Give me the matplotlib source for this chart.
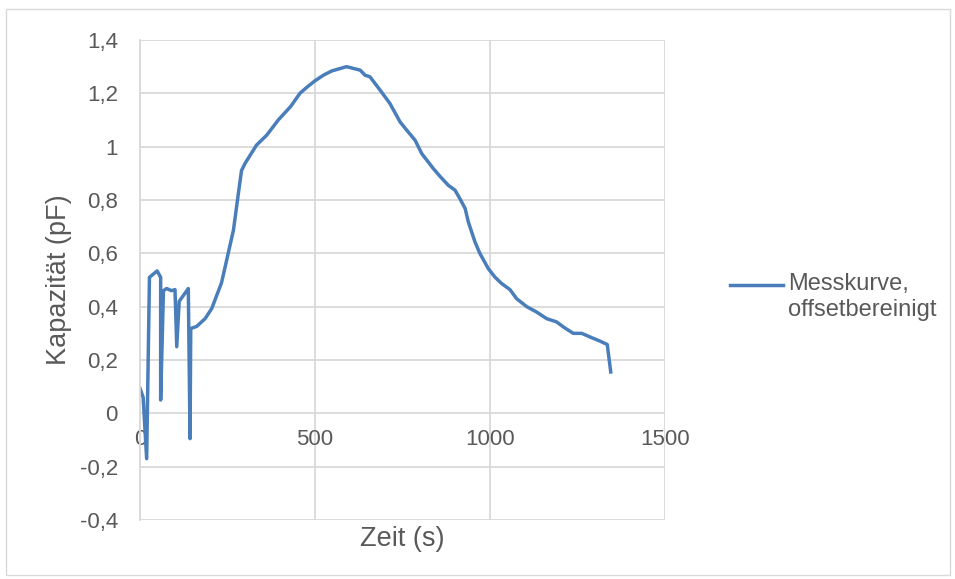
import numpy as np
import matplotlib.pyplot as plt
from matplotlib.patches import Rectangle
from matplotlib.lines import Line2D

plt.rcParams['font.family'] = ['Liberation Sans', 'DejaVu Sans']

zeit = [0, 9, 19, 27, 49, 59, 59, 67, 76, 90, 100, 105, 112, 138, 143, 145,
        162, 186, 205, 233, 252, 267, 281, 290, 300, 333, 362, 395, 430, 457,
        476, 500, 524, 548, 590, 629, 643, 657, 686, 714, 743, 762, 786, 805,
        838, 857, 881, 900, 914, 929, 938, 957, 971, 995, 1014, 1033, 1057,
        1076, 1105, 1133, 1162, 1190, 1214, 1238, 1262, 1290, 1314, 1335, 1345]
kapazitaet = [0.094, 0.06, -0.17, 0.51, 0.534, 0.51, 0.05, 0.46, 0.468, 0.46,
              0.464, 0.25, 0.42, 0.468, -0.095, 0.318, 0.326, 0.355, 0.393,
              0.49, 0.60, 0.687, 0.824, 0.91, 0.937, 1.006, 1.043, 1.10, 1.15,
              1.20, 1.222, 1.247, 1.268, 1.284, 1.30, 1.287, 1.268, 1.262,
              1.212, 1.162, 1.093, 1.062, 1.024, 0.974, 0.918, 0.889, 0.855,
              0.837, 0.805, 0.768, 0.718, 0.643, 0.60, 0.543, 0.511, 0.487,
              0.464, 0.43, 0.40, 0.38, 0.355, 0.343, 0.32, 0.30, 0.30, 0.284,
              0.271, 0.258, 0.155]

x_ticks = [0, 500, 1000, 1500]
y_ticks = [-0.4, -0.2, 0, 0.2, 0.4, 0.6, 0.8, 1, 1.2, 1.4]
y_labels = ['-0,4', '-0,2', '0', '0,2', '0,4', '0,6', '0,8', '1', '1,2', '1,4']
legende = 'Messkurve,\noffsetbereinigt'

grau = '#595959'
blau = '#4a7ebb'
W, H = 955, 579

fig = plt.figure(figsize=(9.55, 5.79), dpi=100)
# Rahmen um das Diagramm
fig.patches.append(Rectangle((6 / W, 4 / H), 944 / W, 566 / H,
                             transform=fig.transFigure, fill=False,
                             edgecolor='#d9d9d9', linewidth=1))
ax = fig.add_axes([140 / W, 1 - 520 / H, 525 / W, 480 / H])

ax.plot(zeit, kapazitaet, color=blau, linewidth=2.5)

ax.set_xlim(0, 1500)
ax.set_ylim(-0.4, 1.4)
ax.set_xticks(x_ticks)
ax.set_yticks(y_ticks)
ax.set_yticklabels(y_labels)
ax.grid(True, color='#d9d9d9', linewidth=1.3)
ax.set_axisbelow(True)

for s in ['top', 'right']:
    ax.spines[s].set_visible(False)
ax.spines['left'].set_color('#d9d9d9')
ax.spines['left'].set_linewidth(1.3)
# x-Achse kreuzt bei y = 0
ax.spines['bottom'].set_position(('data', 0))
ax.spines['bottom'].set_visible(False)
ax.tick_params(axis='both', length=0, labelsize=16, colors=grau)
ax.tick_params(axis='y', pad=16)
ax.tick_params(axis='x', pad=11)

ax.set_ylabel('Kapazität (pF)', fontsize=19.5, color=grau)
ax.yaxis.label.set_va('center')
ax.yaxis.set_label_coords(-0.155, 0.5)
ax.set_xlabel('Zeit (s)', fontsize=19.5, color=grau)
ax.xaxis.label.set_va('center')
ax.xaxis.set_label_coords(0.5, -0.04)

# Legende wie in Excel: Linie auf Höhe der ersten Zeile
fig.add_artist(Line2D([730 / W, 783 / W], [1 - 285 / H, 1 - 285 / H],
                      transform=fig.transFigure, color=blau, linewidth=2.5))
fig.text(788 / W, 1 - 273 / H, legende, fontsize=17, color=grau,
         va='top', ha='left', linespacing=1.22)

plt.savefig('out.png', dpi=100)
